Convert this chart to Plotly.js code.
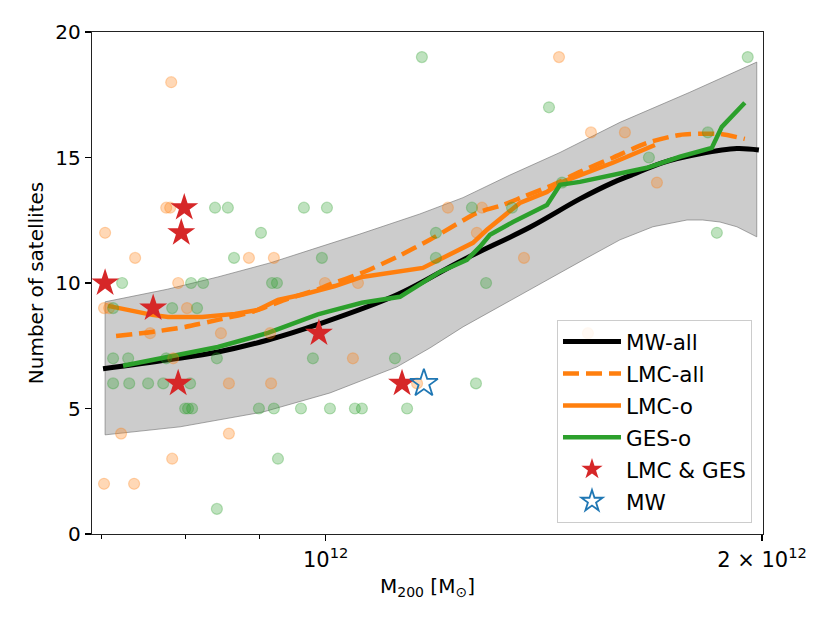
<!DOCTYPE html>
<html>
<head>
<meta charset="utf-8">
<script src="https://cdn.plot.ly/plotly-3.0.1.min.js"></script>
<style>html,body{margin:0;padding:0;background:#fff;}#chart{width:830px;height:623px;}</style>
</head>
<body>
<div id="chart"></div>
<script>
// Halo mass in units of 1e12 Msun
const bandUpperMass = [0.7045, 0.7776, 0.8427, 0.9155, 0.980, 1.056, 1.1614, 1.2437, 1.340, 1.451, 1.5959, 1.7834, 1.9832];
const bandUpperN    = [9.25, 9.75, 10.24, 10.8, 11.35, 11.95, 12.75, 13.4, 14.3, 15.2, 16.4, 17.6, 18.8];
const bandLowerMass = [0.7045, 0.7936, 0.9053, 1.0069, 1.120, 1.180, 1.2437, 1.3831, 1.5143, 1.5959, 1.6816, 1.7752, 1.8203, 1.8706, 1.9216, 1.9832];
const bandLowerN    = [3.95, 4.27, 4.86, 5.62, 6.66, 7.41, 8.25, 9.72, 11.0, 11.72, 12.24, 12.51, 12.51, 12.43, 12.24, 11.84];

const mwAllMass = [0.7022, 0.7786, 0.8427, 0.9125, 0.9878, 1.120, 1.2437, 1.3831, 1.4976, 1.578, 1.625, 1.7086, 1.8119, 1.9216, 1.990];
const mwAllN    = [6.58, 6.94, 7.25, 7.73, 8.35, 9.53, 10.92, 12.22, 13.35, 14.0, 14.3, 14.8, 15.15, 15.36, 15.30];

const lmcAllMass = [0.7169, 0.7592, 0.800, 0.8427, 0.8896, 0.9374, 0.9878, 1.0069, 1.0593, 1.120, 1.180, 1.2715, 1.3253, 1.368, 1.435, 1.4976, 1.578, 1.6657, 1.7555, 1.8706, 1.946];
const lmcAllN    = [7.89, 8.05, 8.25, 8.53, 8.85, 9.33, 9.75, 9.95, 10.40, 11.04, 11.72, 12.79, 13.11, 13.43, 13.91, 14.43, 14.99, 15.58, 15.90, 15.94, 15.74];

const lmcOMass = [0.7079, 0.7389, 0.7592, 0.7786, 0.8219, 0.8659, 0.8981, 0.9271, 0.9631, 1.0149, 1.0593, 1.167, 1.2636, 1.292, 1.3614, 1.4212, 1.451, 1.578, 1.687];
const lmcON    = [9.09, 8.85, 8.73, 8.65, 8.65, 8.77, 8.93, 9.33, 9.53, 9.88, 10.24, 10.60, 11.60, 12.12, 13.19, 13.63, 13.99, 14.79, 15.5];

const gesOMass = [0.7249, 0.7786, 0.8427, 0.9125, 0.9878, 1.0069, 1.0593, 1.1253, 1.199, 1.2515, 1.2774, 1.2982, 1.3465, 1.4212, 1.451, 1.4976, 1.6215, 1.6657, 1.7555, 1.8465, 1.8762, 1.946];
const gesON    = [6.70, 7.05, 7.45, 8.01, 8.75, 8.88, 9.21, 9.45, 10.44, 10.92, 11.44, 11.92, 12.43, 13.11, 13.91, 14.03, 14.43, 14.59, 15.03, 15.38, 16.22, 17.18];

const lmcHaloMass = [0.7825, 1.4487, 1.5241, 1.6085, 1.6925, 1.2143, 1.2819, 0.7763, 0.7812, 0.7045, 1.2715, 0.7389, 0.8853, 0.9211, 1.3703, 0.7912, 0.9989, 1.0527, 0.7033, 0.7090, 0.8024, 0.7567, 0.8468, 1.5168, 0.9155, 0.7850, 1.0443, 0.8576, 0.9170, 1.1563, 0.7226, 0.8576, 0.7837, 0.7033, 0.7377];
const lmcHaloN    = [18, 19, 16, 16, 14, 13, 13, 13, 13, 12, 12, 11, 11, 11, 11, 10, 10, 10, 9, 9, 9, 8, 8, 8, 8, 7, 7, 6, 6, 6, 4, 4, 3, 2, 2];

const gesHaloMass = [1.1652, 1.9550, 1.4258, 1.8351, 1.6711, 1.4557, 0.8389, 0.8562, 0.9661, 1.0021, 1.2616, 1.3445, 0.9024, 1.1914, 1.8615, 0.8646, 0.9941, 1.1914, 0.7238, 0.8076, 0.8232, 0.9184, 0.9256, 1.2902, 0.7135, 0.7837, 0.8153, 0.7135, 0.7308, 0.7763, 0.8414, 0.9800, 1.1164, 0.7135, 0.7320, 0.7543, 0.7726, 0.8063, 1.2697, 0.8000, 0.8037, 0.8089, 0.8995, 0.9211, 0.9616, 1.0069, 1.0476, 1.0593, 1.1381, 0.9271, 0.8414];
const gesHaloN    = [19, 19, 17, 16, 15, 14, 13, 13, 13, 13, 13, 13, 12, 12, 12, 11, 11, 11, 10, 10, 10, 10, 10, 10, 9, 9, 9, 7, 7, 7, 7, 7, 7, 6, 6, 6, 6, 6, 6, 5, 5, 5, 5, 5, 5, 5, 5, 5, 5, 3, 1];

const lmcGesMass = [0.7045, 0.7989, 0.7951, 0.7604, 0.7912, 0.9894, 1.1290];
const lmcGesN    = [10, 13, 12, 9, 6, 8, 6];
const mwMass = [1.1689];
const mwN    = [6];

const xTickVals = [1, 2];
const xTickText = ['10<sup>12</sup>', '2 × 10<sup>12</sup>'];
const xMinorVals = [0.7, 0.8, 0.9];
const yTickVals = [0, 5, 10, 15, 20];

const orange = '#ff7f0e', green = '#2ca02c';
const bandX = bandUpperMass.concat(bandLowerMass.slice().reverse()).concat([bandUpperMass[0]]);
const bandY = bandUpperN.concat(bandLowerN.slice().reverse()).concat([bandUpperN[0]]);

const traces = [
  {x: bandX, y: bandY, type: 'scatter', mode: 'lines', fill: 'toself',
   fillcolor: 'rgba(128,128,128,0.4)', line: {color: 'rgba(110,110,110,0.6)', width: 1},
   showlegend: false, hoverinfo: 'skip'},
  {x: mwAllMass, y: mwAllN, type: 'scatter', mode: 'lines', name: 'MW-all', legendgroup: 'a',
   line: {color: '#000000', width: 5, shape: 'spline', smoothing: 1}},
  {x: lmcAllMass, y: lmcAllN, type: 'scatter', mode: 'lines', name: 'LMC-all', legendgroup: 'b',
   line: {color: orange, width: 4.5, dash: '16px,7px', shape: 'spline', smoothing: 0.6}},
  {x: lmcOMass, y: lmcON, type: 'scatter', mode: 'lines', name: 'LMC-o', legendgroup: 'c',
   line: {color: orange, width: 4.5}},
  {x: gesOMass, y: gesON, type: 'scatter', mode: 'lines', name: 'GES-o', legendgroup: 'd',
   line: {color: green, width: 4.5}},
  {x: lmcHaloMass, y: lmcHaloN, type: 'scatter', mode: 'markers', showlegend: false,
   marker: {symbol: 'circle', size: 11, color: 'rgba(255,127,14,0.3)', line: {color: 'rgba(255,127,14,0.3)', width: 1.2}}},
  {x: gesHaloMass, y: gesHaloN, type: 'scatter', mode: 'markers', showlegend: false,
   marker: {symbol: 'circle', size: 11, color: 'rgba(44,160,44,0.3)', line: {color: 'rgba(44,160,44,0.3)', width: 1.2}}},
  {x: lmcGesMass, y: lmcGesN, type: 'scatter', mode: 'markers', name: 'LMC &amp; GES', legendgroup: 'e',
   marker: {symbol: 'star', size: 21, color: '#d62728', line: {width: 0}}},
  {x: mwMass, y: mwN, type: 'scatter', mode: 'markers', name: 'MW', legendgroup: 'f',
   marker: {symbol: 'star-open', size: 21, color: '#1f77b4', line: {color: '#1f77b4', width: 1.8}}}
];

const layout = {
  width: 830, height: 623,
  margin: {l: 92, r: 67, t: 32, b: 89},
  paper_bgcolor: '#ffffff', plot_bgcolor: '#ffffff',
  font: {family: 'DejaVu Sans, sans-serif', size: 20, color: '#000'},
  showlegend: true,
  xaxis: {
    type: 'log', range: [Math.log10(0.690), Math.log10(2.003)],
    tickmode: 'array', tickvals: xTickVals, ticktext: xTickText,
    ticks: 'outside', ticklen: 6, tickwidth: 1.2, tickcolor: '#000',
    minor: {tickmode: 'array', tickvals: xMinorVals, ticks: 'outside', ticklen: 3.5, tickwidth: 1, tickcolor: '#000', showgrid: false},
    showline: true, linecolor: '#222', linewidth: 1.3, mirror: true,
    showgrid: false, zeroline: false,
    tickfont: {size: 21},
    title: {text: 'M<sub>200</sub> [M<sub>⊙</sub>]', font: {size: 20}, standoff: 8}
  },
  yaxis: {
    range: [0, 20], tickmode: 'array', tickvals: yTickVals,
    ticks: 'outside', ticklen: 6, tickwidth: 1.2, tickcolor: '#000',
    showline: true, linecolor: '#222', linewidth: 1.3, mirror: true,
    showgrid: false, zeroline: false,
    tickfont: {size: 20},
    title: {text: 'Number of satellites', font: {size: 20}, standoff: 6}
  },
  legend: {
    x: 0.9836, y: 0.0219, xanchor: 'right', yanchor: 'bottom',
    bgcolor: 'rgba(255,255,255,0.85)', bordercolor: '#cccccc', borderwidth: 1,
    font: {size: 21.5}, traceorder: 'grouped', tracegroupgap: 1, itemwidth: 58
  }
};

Plotly.newPlot('chart', traces, layout, {displayModeBar: false, staticPlot: true});
</script>
</body>
</html>
